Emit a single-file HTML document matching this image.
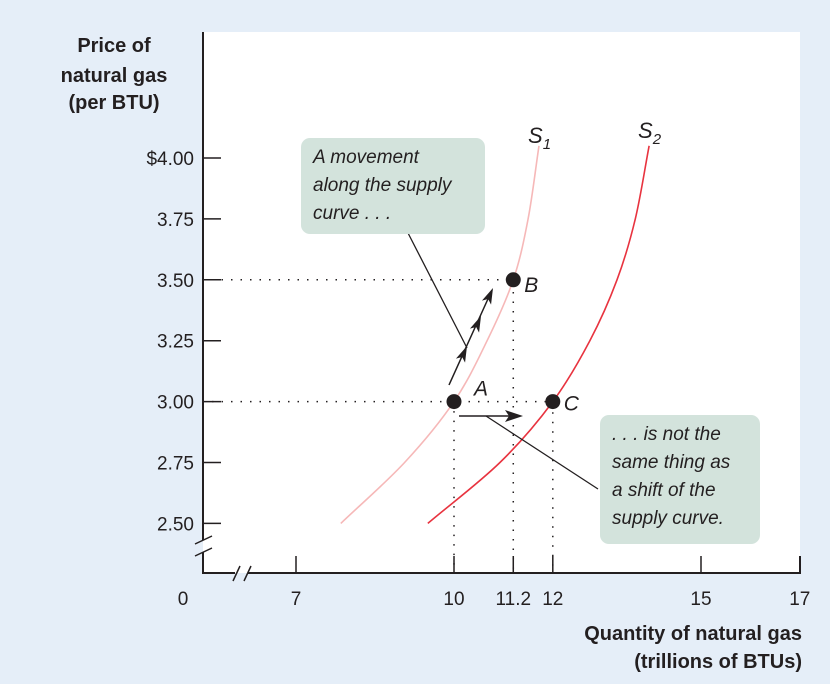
<!DOCTYPE html>
<html><head><meta charset="utf-8">
<style>
body{margin:0;background:#e5eef8;}
svg{display:block;font-family:"Liberation Sans",sans-serif;}
.t{font-size:19px;fill:#231f20}
.b{font-size:20px;font-weight:bold;fill:#231f20}
.i{font-size:19px;font-style:italic;fill:#231f20}
</style></head><body>
<svg id="c" width="830" height="684">
<rect x="0" y="0" width="830" height="684" fill="#e5eef8"/>
<rect x="203" y="32" width="597" height="541" fill="#fff"/>
<g id="g"></g>
</svg>
<script>
const yTicks=[4.00,3.75,3.50,3.25,3.00,2.75,2.50];
const yLabels=["$4.00","3.75","3.50","3.25","3.00","2.75","2.50"];
const xTicks=[7,10,11.2,12,15,17];
const xLabels=["7","10","11.2","12","15","17"];
const s1Q=[7.85,9.0,10,10.67,11.2,11.5,11.72];
const s1P=[2.5,2.75,3.0,3.25,3.5,3.75,4.05];
const s2Q=[9.47,10.93,12,12.75,13.3,13.67,13.95];
const s2P=[2.5,2.75,3.0,3.25,3.5,3.75,4.05];
const ptNames=["A","B","C"];
const ptQ=[10,11.2,12];
const ptP=[3.0,3.5,3.0];

const NS="http://www.w3.org/2000/svg";
const g=document.getElementById('g');
function x(v){return v<8?296+(v-7)*52.7:454+(v-10)*49.4;}
function y(v){return 158+(4-v)*243.6;}
function mk(t,a,p){const e=document.createElementNS(NS,t);for(const k in a)e.setAttribute(k,a[k]);(p||g).appendChild(e);return e;}
function curve(Q,P){const X=Q.map(x),Y=P.map(y),n=X.length;
 const d0=[];for(let i=0;i<n;i++){const a=Math.max(i-1,0),b=Math.min(i+1,n-1);d0.push([(X[b]-X[a])/(b-a),(Y[b]-Y[a])/(b-a)]);}
 let d="M"+X[0]+","+Y[0];
 for(let i=0;i<n-1;i++){d+=" C"+(X[i]+d0[i][0]/3)+","+(Y[i]+d0[i][1]/3)+" "+(X[i+1]-d0[i+1][0]/3)+","+(Y[i+1]-d0[i+1][1]/3)+" "+X[i+1]+","+Y[i+1];}
 return d;}

let e=mk('path',{d:"M203,32 V540 M203,552 V573 H235 M248,573 H800 V556",stroke:"#231f20","stroke-width":2,fill:"none"});


e=mk('path',{d:"M195,544 L212,536 M195,556 L212,548 M233,581 L240,566 M244,581 L251,566",stroke:"#231f20","stroke-width":1.5});


yTicks.forEach((v,i)=>{
 const l=mk('line',{x1:203,x2:221,y1:y(v),y2:y(v),stroke:"#231f20","stroke-width":1.5});
 
 
 const t=mk('text',{x:194,y:y(v)+7,"text-anchor":"end",class:"t"});t.textContent=yLabels[i];
 
 
});
xTicks.forEach((v,i)=>{
 const l=mk('line',{x1:x(v),x2:x(v),y1:556,y2:573,stroke:"#231f20","stroke-width":1.5});
 
 
 const t=mk('text',{x:x(v),y:605,"text-anchor":"middle",class:"t"});t.textContent=xLabels[i];
 
 
});
e=mk('text',{x:183,y:605,"text-anchor":"middle",class:"t"});e.textContent="0";


e=mk('path',{d:`M212,${y(3.5)} H${x(11.2)} V573 M212,${y(3)} H${x(12)} V573 M${x(10)},${y(3)} V573`,stroke:"#231f20","stroke-width":1.5,"stroke-dasharray":"1.5 8",fill:"none"});


e=mk('path',{d:curve(s1Q,s1P),stroke:"#f6b8b8","stroke-width":1.6,fill:"none"});


e=mk('path',{d:curve(s2Q,s2P),stroke:"#e8333f","stroke-width":1.6,fill:"none"});


e=mk('path',{d:"M408,233 L467,348 M486,416 L598,489",stroke:"#231f20","stroke-width":1.3,fill:"none"});


e=mk('path',{d:"M449,385 L492,290 M459,416 L520,416",stroke:"#231f20","stroke-width":1.5,fill:"none"});


[[467,346],[481,316],[493,288]].forEach(p=>{
 const a=mk('path',{d:"M0,0 L-5,16 L0,12 L5,16Z",fill:"#231f20",transform:`translate(${p[0]},${p[1]}) rotate(24)`});
 
 
});
e=mk('path',{d:"M523,416 L505,410 L509,416 L505,422Z",fill:"#231f20"});


const off=[[20,-6],[11,12],[11,9]];
ptNames.forEach((n,i)=>{
 const c=mk('circle',{cx:x(ptQ[i]),cy:y(ptP[i]),r:7.5,fill:"#231f20"});
 
 
 const t=mk('text',{x:x(ptQ[i])+off[i][0],y:y(ptP[i])+off[i][1],class:"i",style:"font-size:21px"});t.textContent=n;
 
 
});
function lab(xx,yy,s,name){const t=mk('text',{x:xx,y:yy,class:"i",style:"font-size:22px"});t.innerHTML=s+'<tspan font-size="15" dy="6">'+name+'</tspan>';
 
 }
lab(528,143,"S","1");lab(638,138,"S","2");
function box(bx,by,w,h,lines,name){const r=mk('rect',{x:bx,y:by,width:w,height:h,rx:9,fill:"#d3e3dc"});
 
 
 lines.forEach((s,i)=>{const t=mk('text',{x:bx+12,y:by+25+i*28,class:"i"});t.textContent=s;
 
 });}
box(301,138,184,96,["A movement","along the supply","curve . . ."],"callout-movement");
box(600,415,160,129,[". . . is not the","same thing as","a shift of the","supply curve."],"callout-shift");
[["Price of",52],["natural gas",82],["(per BTU)",109]].forEach(a=>{const t=mk('text',{x:114,y:a[1],"text-anchor":"middle",class:"b"});t.textContent=a[0];
 
 });
[["Quantity of natural gas",640],["(trillions of BTUs)",668]].forEach(a=>{const t=mk('text',{x:802,y:a[1],"text-anchor":"end",class:"b"});t.textContent=a[0];
 
 });
</script>
</body></html>
